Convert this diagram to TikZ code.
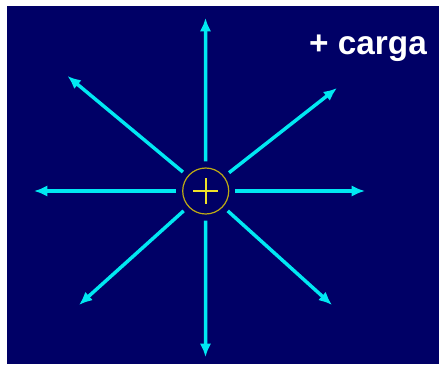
\documentclass[tikz,border=0pt]{standalone}
\usepackage{fontspec}
\setmainfont{Liberation Sans}
\usetikzlibrary{arrows.meta}

\definecolor{bgnavy}{RGB}{0,0,102}
\definecolor{fieldcyan}{RGB}{0,232,242}
\definecolor{ringyellow}{RGB}{190,170,20}
\definecolor{plusyellow}{RGB}{240,225,40}

\begin{document}
\begin{tikzpicture}[
	x=0.75pt, y=-0.75pt,
	>={Latex[length=10pt,width=8.5pt]},
	field/.style={->, line width=2.6pt, fieldcyan},
	charge/.style={circle, draw=ringyellow, line width=0.9pt, fill=bgnavy, minimum size=34.5pt, inner sep=0pt, outer sep=5pt,
		path picture={
			\draw[plusyellow, line width=1.4pt] ([xshift=-9.5pt]path picture bounding box.center) -- ([xshift=9.5pt]path picture bounding box.center);
			\draw[plusyellow, line width=1.4pt] ([yshift=-9.5pt]path picture bounding box.center) -- ([yshift=9.5pt]path picture bounding box.center);
		}},
	title/.style={white, font=\bfseries\fontsize{25}{30}\selectfont, anchor=base}
]
\useasboundingbox (0,0) rectangle (441,364);
\fill[white] (0,0) rectangle (441,364);
\fill[bgnavy] (7,6) rectangle (439,364);

\node[charge] (q) at (205.7,191) {};

% arrow tips
\coordinate (up) at (205.5,18);
\coordinate (down) at (205.5,357);
\coordinate (left) at (34,191);
\coordinate (right) at (365,191);
\coordinate (ul) at (67.5,76);
\coordinate (ur) at (337,88);
\coordinate (ll) at (79,305);
\coordinate (lr) at (332,305);

\draw[field] (q) -- (up);
\draw[field] (q) -- (down);
\draw[field] (q) -- (left);
\draw[field] (q) -- (right);
\draw[field] (q) -- (ul);
\draw[field] (q) -- (ur);
\draw[field] (q) -- (ll);
\draw[field] (q) -- (lr);

\node[title] (label) at (368,54) {+ carga};

\end{tikzpicture}
\end{document}
